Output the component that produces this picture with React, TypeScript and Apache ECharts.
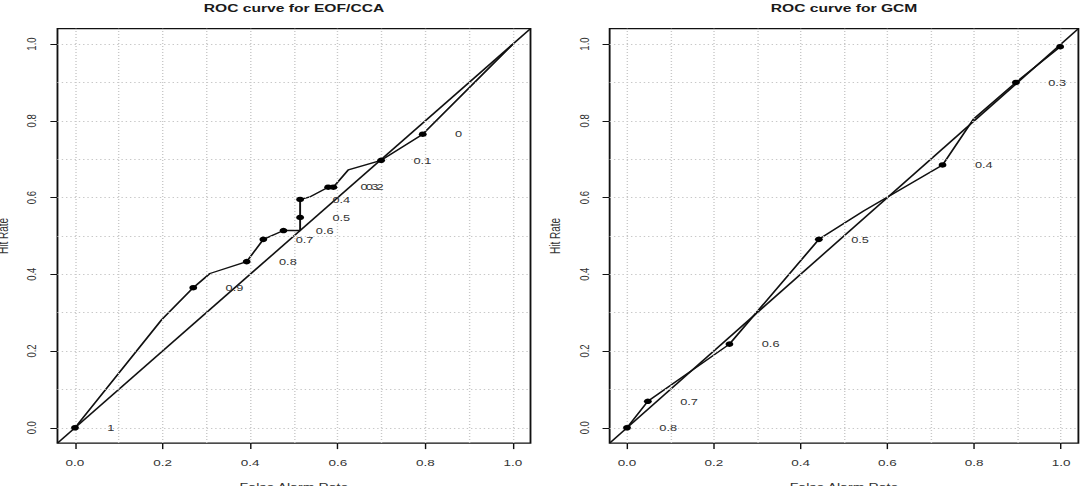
import React, { useEffect, useRef } from "react";
import * as echarts from "echarts";

// The plot is laid out on a narrower canvas and widened with a CSS stretch,
// so text, dots and vertical strokes come out wide, as in the printed figure.
const PAGE_W = 1087;
const PAGE_H = 486;
const CHART_W = 765;
const STRETCH = PAGE_W / CHART_W;

const FONT = '"Liberation Sans", Arial, Helvetica, sans-serif';

// Axis limits (R-style 4% padding around [0, 1])
const AXIS_MIN = -0.04;
const AXIS_MAX = 1.04;
const tickValues = [0, 0.2, 0.4, 0.6, 0.8, 1.0];
const gridValues = [0, 0.1, 0.2, 0.3, 0.4, 0.5, 0.6, 0.7, 0.8, 0.9, 1.0];

// EOF/CCA: ROC polyline (false alarm rate, hit rate)
const eofCurve: [number, number][] = [
  [0, 0],
  [0.198, 0.282],
  [0.27, 0.365],
  [0.308, 0.402],
  [0.392, 0.433],
  [0.43, 0.491],
  [0.476, 0.514],
  [0.514, 0.514],
  [0.514, 0.548],
  [0.514, 0.595],
  [0.537, 0.602],
  [0.578, 0.627],
  [0.59, 0.627],
  [0.624, 0.672],
  [0.699, 0.697],
  [0.794, 0.765],
  [1, 1],
];
// EOF/CCA: marked thresholds
const eofPoints: [number, number][] = [
  [0, 0],
  [0.27, 0.365],
  [0.392, 0.433],
  [0.43, 0.491],
  [0.476, 0.514],
  [0.514, 0.548],
  [0.514, 0.595],
  [0.578, 0.627],
  [0.59, 0.627],
  [0.699, 0.697],
  [0.794, 0.765],
];
const eofThresholds = ["1", "0.9", "0.8", "0.7", "0.6", "0.5", "0.4", "0.3", "0.2", "0.1", "0"];

// GCM: ROC polyline
const gcmCurve: [number, number][] = [
  [0, 0],
  [0.048, 0.069],
  [0.236, 0.218],
  [0.442, 0.491],
  [0.545, 0.565],
  [0.727, 0.685],
  [0.798, 0.804],
  [0.896, 0.9],
  [0.998, 0.993],
  [1, 1],
];
// GCM: marked thresholds (the last label falls outside the plot region)
const gcmPoints: [number, number][] = [
  [0, 0],
  [0.048, 0.069],
  [0.236, 0.218],
  [0.442, 0.491],
  [0.727, 0.685],
  [0.896, 0.9],
  [0.998, 0.993],
];
const gcmThresholds = ["0.8", "0.7", "0.6", "0.5", "0.4", "0.3", ""];

const panels = [
  { title: "ROC curve for EOF/CCA", left: 40.45, width: 332.9, curve: eofCurve, points: eofPoints, labels: eofThresholds },
  { title: "ROC curve for GCM", left: 429.05, width: 329.9, curve: gcmCurve, points: gcmPoints, labels: gcmThresholds },
];

const GRID_TOP = 28.7;
const GRID_H = 414.4;
const INK = "#111111";

export default function App() {
  const ref = useRef<HTMLDivElement>(null);

  useEffect(() => {
    if (!ref.current) return;
    const chart = echarts.init(ref.current, undefined, { renderer: "svg" });

    const grids = panels.map((p) => ({
      left: p.left,
      width: p.width,
      top: GRID_TOP,
      height: GRID_H,
      containLabel: false,
      outerBoundsMode: "none",
      show: true,
      borderColor: INK,
      borderWidth: 1.3,
      backgroundColor: "transparent",
    }));

    const xAxes = panels.map((_, i) => ({
      gridIndex: i,
      type: "value",
      min: AXIS_MIN,
      max: AXIS_MAX,
      axisLine: { show: false, onZero: false },
      axisTick: { show: true, customValues: tickValues, length: 6, lineStyle: { color: INK, width: 1 } },
      axisLabel: {
        customValues: tickValues,
        formatter: (v: number) => v.toFixed(1),
        fontSize: 9.5,
        fontFamily: FONT,
        color: "#333",
        margin: 14,
      },
      splitLine: { show: false },
      name: "False Alarm Rate",
      nameLocation: "middle",
      nameGap: 40,
      nameTextStyle: { fontSize: 10, fontFamily: FONT, color: "#333" },
    }));

    const yAxes = panels.map((_, i) => ({
      gridIndex: i,
      type: "value",
      min: AXIS_MIN,
      max: AXIS_MAX,
      axisLine: { show: false, onZero: false },
      axisTick: { show: true, customValues: tickValues, length: 5, lineStyle: { color: INK, width: 1 } },
      axisLabel: {
        customValues: tickValues,
        formatter: (v: number) => v.toFixed(1),
        rotate: 90,
        fontSize: 9.5,
        fontFamily: FONT,
        color: "#333",
        margin: 13.5,
      },
      splitLine: { show: false },
      name: "Hit Rate",
      nameLocation: "middle",
      nameGap: 33,
      nameRotate: 90,
      nameTextStyle: { fontSize: 10, fontFamily: FONT, color: "#333" },
    }));

    const series: any[] = [];
    panels.forEach((p, i) => {
      // dotted reference grid
      series.push({
        type: "line",
        xAxisIndex: i,
        yAxisIndex: i,
        data: [],
        silent: true,
        z: 1,
        markLine: {
          silent: true,
          symbol: ["none", "none"],
          label: { show: false },
          emphasis: { disabled: true },
          lineStyle: { color: "#c8c8c8", type: [1, 2], width: 1 },
          data: [
            ...gridValues.map((v) => ({ xAxis: v })),
            ...gridValues.map((v) => ({ yAxis: v })),
          ],
        },
      });
      // no-skill diagonal
      series.push({
        type: "line",
        xAxisIndex: i,
        yAxisIndex: i,
        data: [
          [AXIS_MIN, AXIS_MIN],
          [AXIS_MAX, AXIS_MAX],
        ],
        symbol: "none",
        silent: true,
        z: 2,
        lineStyle: { color: INK, width: 1.35 },
      });
      // ROC curve
      series.push({
        type: "line",
        xAxisIndex: i,
        yAxisIndex: i,
        data: p.curve,
        symbol: "none",
        silent: true,
        z: 3,
        lineStyle: { color: INK, width: 1.35 },
      });
      // threshold markers with their labels
      series.push({
        type: "scatter",
        xAxisIndex: i,
        yAxisIndex: i,
        data: p.points,
        symbol: "circle",
        symbolSize: 5.5,
        silent: true,
        z: 5,
        itemStyle: { color: "#000", opacity: 1, borderWidth: 0 },
        label: {
          show: true,
          position: "right",
          distance: 20,
          fontSize: 9,
          fontFamily: FONT,
          color: "#333",
          formatter: (params: any) => p.labels[params.dataIndex] ?? "",
        },
      });
    });

    const graphic = panels.map((p) => ({
      type: "text",
      x: p.left + p.width / 2,
      y: 8.5,
      silent: true,
      style: {
        text: p.title,
        font: `bold 11px ${FONT}`,
        fill: "#1a1a1a",
        textAlign: "center",
        textVerticalAlign: "middle",
      },
    }));

    chart.setOption({
      animation: false,
      backgroundColor: "#ffffff",
      grid: grids,
      xAxis: xAxes,
      yAxis: yAxes,
      series,
      graphic,
    });

    return () => chart.dispose();
  }, []);

  return (
    <div
      style={{
        position: "absolute",
        left: 0,
        top: 0,
        width: PAGE_W,
        height: PAGE_H,
        overflow: "hidden",
        background: "#ffffff",
      }}
    >
      <div
        ref={ref}
        style={{
          width: CHART_W,
          height: PAGE_H,
          transform: `scaleX(${STRETCH})`,
          transformOrigin: "0 0",
        }}
      />
    </div>
  );
}
